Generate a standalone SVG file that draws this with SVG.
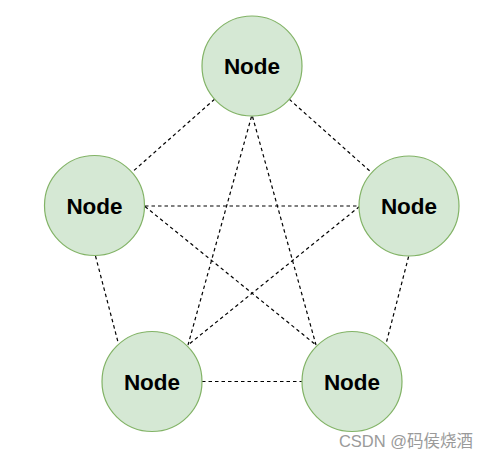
<svg xmlns="http://www.w3.org/2000/svg" width="490" height="459" viewBox="0 0 490 459">
<style>
.n{fill:#d5e8d4;stroke:#82b366;stroke-width:1.2}
.t{font-family:"Liberation Sans",Arial,sans-serif;font-weight:bold;font-size:22.5px;fill:#000;text-anchor:middle}
.e{stroke:#000;stroke-width:1.2;stroke-dasharray:3.5 3;fill:none}
</style>
<rect width="490" height="459" fill="#fff"/>
<g id="connectors">
<line class="e" x1="214.6" y1="99.2" x2="131.9" y2="172.3"/>
<line class="e" x1="289.3" y1="99.3" x2="371.7" y2="172.7"/>
<line class="e" x1="251.5" y1="116.5" x2="188" y2="345"/>
<line class="e" x1="252.5" y1="116.5" x2="316" y2="345"/>
<line class="e" x1="145" y1="206" x2="359.5" y2="206"/>
<line class="e" x1="145" y1="206.5" x2="316" y2="345"/>
<line class="e" x1="359.5" y1="206.5" x2="188" y2="345"/>
<line class="e" x1="95.5" y1="256" x2="118.5" y2="344"/>
<line class="e" x1="408.6" y1="256.5" x2="386" y2="344"/>
<line class="e" x1="202" y1="381.5" x2="302" y2="381.5"/>
</g>
<g id="node-top"><circle class="n" cx="252" cy="66" r="50"/><text class="t" x="252" y="74">Node</text></g>
<g id="node-left"><circle class="n" cx="94.5" cy="205.5" r="50"/><text class="t" x="94.5" y="213.5">Node</text></g>
<g id="node-right"><circle class="n" cx="409" cy="206" r="50"/><text class="t" x="409" y="214">Node</text></g>
<g id="node-bottom-left"><circle class="n" cx="152" cy="381.5" r="50"/><text class="t" x="152" y="389.5">Node</text></g>
<g id="node-bottom-right"><circle class="n" cx="352" cy="381.5" r="50"/><text class="t" x="352" y="389.5">Node</text></g>
<text x="406" y="447" font-family="'Liberation Sans','Noto Sans CJK SC',sans-serif" font-size="16.5" fill="#9a9a9a" text-anchor="middle">CSDN @码侯烧酒</text>
</svg>
